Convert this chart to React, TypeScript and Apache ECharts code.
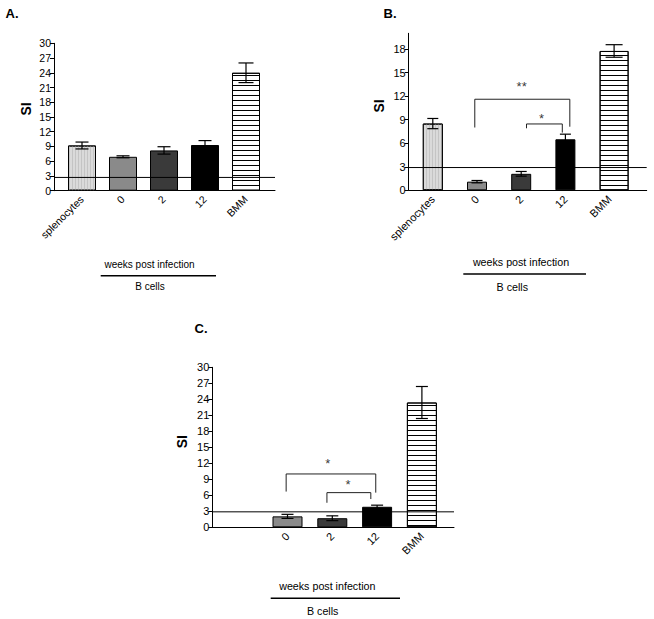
import React, { useEffect, useRef } from "react";
import * as echarts from "echarts";

// ---------- data ----------
const categoriesAB = ["splenocytes", "0", "2", "12", "BMM"];
const categoriesC = ["", "0", "2", "12", "BMM"];

const valuesA = [9.2, 6.9, 8.2, 9.3, 24.0];
const errorsA = [0.7, 0.2, 0.75, 0.9, 2.0];
const thresholdA = 2.7;

const valuesB = [8.5, 1.1, 2.1, 6.5, 17.75];
const errorsB = [0.65, 0.15, 0.3, 0.65, 0.8];
const thresholdB = 2.9;

const valuesC = [null, 2.05, 1.7, 3.85, 23.4];
const errorsC = [null, 0.38, 0.45, 0.3, 3.0];
const thresholdC = 2.9;

const yTicks30 = [0, 3, 6, 9, 12, 15, 18, 21, 24, 27, 30];
const yTicksB = [0, 3, 6, 9, 12, 15, 18];

// brackets: [xStart, xEnd, yTop, yLeftEnd, yRightEnd]
const bracketsB = [
  [0.95, 3.1, 11.6, 8.0, 8.1],
  [2.12, 2.93, 8.45, 7.9, 7.35],
];
// stars: [x, y, text]
const starsB: [number, number, string][] = [
  [2.01, 13.2, "**"],
  [2.46, 9.2, "*"],
];
const bracketsC = [
  [0.97, 2.97, 10.0, 6.7, 6.5],
  [1.88, 2.86, 6.5, 4.6, 5.3],
];
const starsC: [number, number, string][] = [
  [1.9, 12.0, "*"],
  [2.35, 8.1, "*"],
];

// ---------- styles ----------
const FONT = "'Liberation Sans', Arial, Helvetica, sans-serif";
const barColors = ["#dadada", "#8a8a8a", "#3a3a3a", "#000000", "#ffffff"];
const splenDecal = {
  symbol: "rect",
  symbolSize: 1,
  color: "#c4c4c4",
  dashArrayX: [1, 2],
  dashArrayY: [10, 0],
};
const bmmDecal = {
  symbol: "rect",
  symbolSize: 1,
  color: "#000000",
  dashArrayX: [10, 0],
  dashArrayY: [1, 3.5],
};

type PanelCfg = {
  cats: string[];
  values: (number | null)[];
  errors: (number | null)[];
  threshold: number;
  yMax: number;
  yTicks: number[];
  outer: { left: number; top: number; width: number; height: number };
  inner: { left: number; width: number };
  barWidth: number;
  bmmWidth: number;
  cap: number;
  bmmCap: number;
  brackets: number[][];
  stars: [number, number, string][];
  fontSize: number;
  catFontSize: number;
};

function buildPanel(p: number, c: PanelCfg) {
  const grids = [
    { ...c.outer },
    { left: c.inner.left, width: c.inner.width, top: c.outer.top, height: c.outer.height },
  ];
  const xAxes: any[] = [
    {
      type: "value",
      gridIndex: 2 * p,
      min: 0,
      max: 1,
      axisLine: { show: true, lineStyle: { color: "#000", width: 1 } },
      axisTick: { show: false },
      axisLabel: { show: false },
      splitLine: { show: false },
    },
    {
      type: "category",
      gridIndex: 2 * p + 1,
      data: c.cats,
      axisLine: { show: false },
      axisTick: { show: false },
      axisLabel: {
        interval: 0,
        rotate: 45,
        margin: 7,
        color: "#000",
        fontSize: c.catFontSize,
        fontFamily: FONT,
      },
    },
    {
      type: "value",
      gridIndex: 2 * p + 1,
      min: -0.5,
      max: 4.5,
      show: false,
    },
  ];
  const yAxes: any[] = [
    {
      type: "value",
      gridIndex: 2 * p,
      min: 0,
      max: c.yMax,
      interval: 3,
      axisLine: { show: true, lineStyle: { color: "#000", width: 1 } },
      axisTick: { show: true, length: 4, lineStyle: { color: "#000" }, customValues: c.yTicks },
      axisLabel: {
        color: "#000",
        fontSize: c.fontSize,
        fontFamily: FONT,
        margin: 3,
        customValues: c.yTicks,
      },
      splitLine: { show: false },
    },
    { type: "value", gridIndex: 2 * p + 1, min: 0, max: c.yMax, show: false },
  ];

  const xo = 3 * p;
  const yo = 2 * p;
  const series: any[] = [];

  // threshold line
  series.push({
    type: "line",
    xAxisIndex: xo,
    yAxisIndex: yo,
    data: [
      [0, c.threshold],
      [1, c.threshold],
    ],
    symbol: "none",
    lineStyle: { color: "#000", width: 1 },
    silent: true,
    z: 5,
  });

  const mkItem = (v: number | null, i: number) => {
    if (v == null) return "-";
    const itemStyle: any = { color: barColors[i], borderColor: "#000", borderWidth: 1 };
    if (i === 0) itemStyle.decal = splenDecal;
    if (i === 4) itemStyle.decal = bmmDecal;
    return { value: v, itemStyle };
  };
  const wide = c.bmmWidth !== c.barWidth;
  if (wide) {
    series.push({
      type: "bar",
      xAxisIndex: xo + 1,
      yAxisIndex: yo + 1,
      barWidth: c.bmmWidth,
      barGap: "-100%",
      data: c.values.map((v, i) => (i === 4 ? mkItem(v, i) : "-")),
      z: 2,
    });
    series.push({
      type: "bar",
      xAxisIndex: xo + 1,
      yAxisIndex: yo + 1,
      barWidth: c.barWidth,
      barGap: "-100%",
      data: c.values.map((v, i) => (i === 4 ? "-" : mkItem(v, i))),
      z: 2,
    });
  } else {
    series.push({
      type: "bar",
      xAxisIndex: xo + 1,
      yAxisIndex: yo + 1,
      barWidth: c.barWidth,
      data: c.values.map((v, i) => mkItem(v, i)),
      z: 2,
    });
  }

  const bmmShift = wide ? (c.bmmWidth - c.barWidth) / 2 : 0;
  series.push({
    type: "custom",
    xAxisIndex: xo + 1,
    yAxisIndex: yo + 1,
    data: c.values
      .map((v, i) => (v == null ? null : [i, v, c.errors[i] as number]))
      .filter((d) => d != null),
    renderItem: (params: any, api: any) => {
      const x = api.value(0);
      const v = api.value(1);
      const e = api.value(2);
      const top = api.coord([x, v + e]);
      const bot = api.coord([x, v - e]);
      const dx = x === 4 ? bmmShift : 0;
      const hw = (x === 4 ? c.bmmCap : c.cap) / 2;
      const cx = top[0] + dx;
      const st = { stroke: "#000", lineWidth: 1.2 };
      return {
        type: "group",
        children: [
          { type: "line", shape: { x1: cx, y1: top[1], x2: cx, y2: bot[1] }, style: st },
          { type: "line", shape: { x1: cx - hw, y1: top[1], x2: cx + hw, y2: top[1] }, style: st },
          { type: "line", shape: { x1: cx - hw, y1: bot[1], x2: cx + hw, y2: bot[1] }, style: st },
        ],
      };
    },
    z: 6,
    silent: true,
  });

  c.brackets.forEach((b) => {
    series.push({
      type: "line",
      xAxisIndex: xo + 2,
      yAxisIndex: yo + 1,
      data: [
        [b[0], b[3]],
        [b[0], b[2]],
        [b[1], b[2]],
        [b[1], b[4]],
      ],
      symbol: "none",
      lineStyle: { color: "#222", width: 1 },
      silent: true,
      z: 7,
    });
  });

  if (c.stars.length) {
    series.push({
      type: "scatter",
      xAxisIndex: xo + 2,
      yAxisIndex: yo + 1,
      data: c.stars.map((s) => ({ value: [s[0], s[1]], label: { formatter: s[2] } })),
      symbolSize: 2,
      itemStyle: { color: "rgba(0,0,0,0)" },
      label: {
        show: true,
        position: "inside",
        color: "#000",
        fontSize: 13,
        fontFamily: FONT,
      },
      silent: true,
      z: 8,
    });
  }

  return { grids, xAxes, yAxes, series };
}

const panels: PanelCfg[] = [
  {
    cats: categoriesAB,
    values: valuesA,
    errors: errorsA,
    threshold: thresholdA,
    yMax: 30,
    yTicks: yTicks30,
    outer: { left: 54, top: 43.3, width: 221, height: 147.4 },
    inner: { left: 61.5, width: 205 },
    barWidth: 28,
    bmmWidth: 28,
    cap: 13,
    bmmCap: 15,
    brackets: [],
    stars: [],
    fontSize: 10.5,
    catFontSize: 10.5,
  },
  {
    cats: categoriesAB,
    values: valuesB,
    errors: errorsB,
    threshold: thresholdB,
    yMax: 20,
    yTicks: yTicksB,
    outer: { left: 408.7, top: 33.3, width: 238, height: 157 },
    inner: { left: 410.7, width: 221 },
    barWidth: 20,
    bmmWidth: 29,
    cap: 11,
    bmmCap: 17,
    brackets: bracketsB,
    stars: starsB,
    fontSize: 11,
    catFontSize: 11,
  },
  {
    cats: categoriesC,
    values: valuesC,
    errors: errorsC,
    threshold: thresholdC,
    yMax: 30,
    yTicks: yTicks30,
    outer: { left: 212.3, top: 367.3, width: 241.7, height: 160 },
    inner: { left: 220.3, width: 224 },
    barWidth: 30,
    bmmWidth: 30,
    cap: 12,
    bmmCap: 12,
    brackets: bracketsC,
    stars: starsC,
    fontSize: 11,
    catFontSize: 11,
  },
];

function textEl(text: string, x: number, y: number, size: number, bold = false, rot = 0) {
  return {
    type: "text",
    x,
    y,
    rotation: rot,
    style: {
      text,
      fill: "#000",
      font: `${bold ? "bold " : ""}${size}px ${FONT}`,
      align: "center",
      verticalAlign: "middle",
    },
    silent: true,
  };
}
function lineEl(x1: number, x2: number, y: number) {
  return {
    type: "line",
    shape: { x1, y1: y, x2, y2: y },
    style: { stroke: "#000", lineWidth: 1.6 },
    silent: true,
  };
}

export default function App() {
  const ref = useRef<HTMLDivElement>(null);
  useEffect(() => {
    if (!ref.current) return;
    const chart = echarts.init(ref.current, null, { renderer: "svg" });
    const grid: any[] = [];
    const xAxis: any[] = [];
    const yAxis: any[] = [];
    const series: any[] = [];
    panels.forEach((c, p) => {
      const r = buildPanel(p, c);
      grid.push(...r.grids);
      xAxis.push(...r.xAxes);
      yAxis.push(...r.yAxes);
      series.push(...r.series);
    });
    const graphic = [
      textEl("A.", 12, 13, 13, true),
      textEl("B.", 390, 13.5, 13, true),
      textEl("C.", 201, 328, 13, true),
      textEl("SI", 26, 109, 14, true, Math.PI / 2),
      textEl("SI", 379, 106, 14, true, Math.PI / 2),
      textEl("SI", 182, 441.7, 14, true, Math.PI / 2),
      textEl("weeks post infection", 149.5, 264, 10),
      lineEl(100.7, 216, 275.7),
      textEl("B cells", 150, 286, 10),
      textEl("weeks post infection", 521, 262.3, 10.7),
      lineEl(463.3, 586, 274),
      textEl("B cells", 512.3, 287.3, 10.7),
      textEl("weeks post infection", 327.3, 586, 10.7),
      lineEl(270.7, 400, 598.3),
      textEl("B cells", 322.7, 610.7, 10.7),
    ];
    chart.setOption({
      animation: false,
      backgroundColor: "#ffffff",
      grid,
      xAxis,
      yAxis,
      series,
      graphic,
    });
    return () => chart.dispose();
  }, []);
  return (
    <div
      ref={ref}
      style={{ position: "fixed", left: 0, top: 0, width: 654, height: 619, background: "#fff" }}
    />
  );
}
